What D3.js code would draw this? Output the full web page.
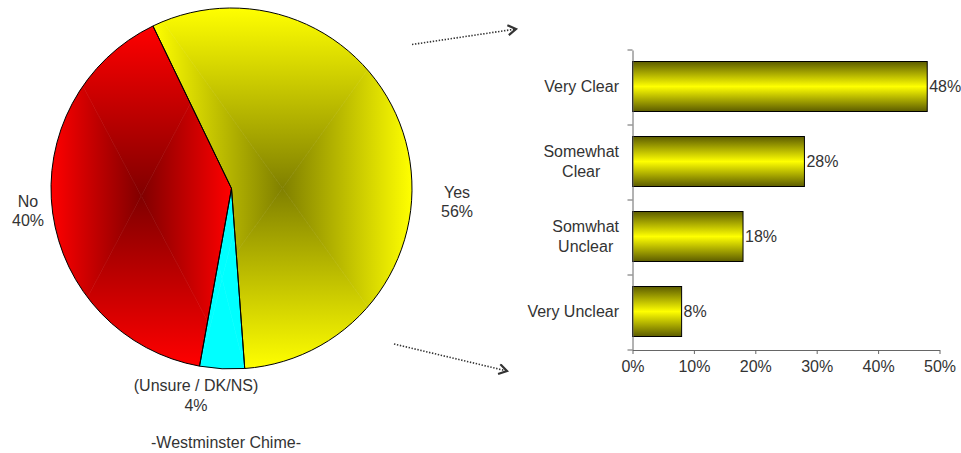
<!DOCTYPE html>
<html>
<head>
<meta charset="utf-8">
<script src="https://cdnjs.cloudflare.com/ajax/libs/d3/7.8.5/d3.min.js"></script>
<style>
  html, body { margin: 0; padding: 0; background: #fff; }
  svg { display: block; font-family: Arial, "Liberation Sans", sans-serif; }
</style>
</head>
<body>
<svg id="chart" width="961" height="453"></svg>
<script>
// Pie: overall answer
const pieLabels = ["Yes", "(Unsure / DK/NS)", "No"];
const pieValues = [56, 4, 40];
const pieInner = ["#808000", "#00ffff", "#800000"];
const pieOuter = ["#ffff00", "#00ffff", "#ff0000"];

// Bars: breakdown of the "Yes" answers
const barCategories = [["Very Clear"], ["Somewhat", "Clear"], ["Somwhat", "Unclear"], ["Very Unclear"]];
const barValues = [0.48, 0.28, 0.18, 0.08];
const xTicks = [0, 0.1, 0.2, 0.3, 0.4, 0.5];

const title = "-Westminster Chime-";

const W = 961, H = 453;
const svg = d3.select("#chart");
const defs = svg.append("defs");
const FS = 16;
const textColor = "#333";

// ---------- Pie ----------
const cx = 231.5, cy = 188.5, R = 180.5;
const startDeg = -25.8;
const pie = d3.pie().sort(null)
  .startAngle(startDeg * Math.PI / 180)
  .endAngle(startDeg * Math.PI / 180 + 2 * Math.PI);
const arc = d3.arc().innerRadius(0).outerRadius(R);
const arcs = pie(pieValues);

const pieG = svg.append("g").attr("transform", `translate(${cx},${cy})`);

// Rectangular "from centre" shading: four triangles over the slice's bounding box,
// each with a linear gradient running from the box centre out to its edge.
function rectShade(g, bb, inner, outer, key) {
  const x0 = bb.x, y0 = bb.y, x1 = bb.x + bb.width, y1 = bb.y + bb.height;
  const mx = (x0 + x1) / 2, my = (y0 + y1) / 2;
  const parts = [
    { pts: [[x0, y0], [x1, y0], [mx, my]], a: [mx, my], b: [mx, y0] },
    { pts: [[x1, y0], [x1, y1], [mx, my]], a: [mx, my], b: [x1, my] },
    { pts: [[x1, y1], [x0, y1], [mx, my]], a: [mx, my], b: [mx, y1] },
    { pts: [[x0, y1], [x0, y0], [mx, my]], a: [mx, my], b: [x0, my] }
  ];
  parts.forEach((p, i) => {
    const id = `shade-${key}-${i}`;
    const lg = defs.append("linearGradient").attr("id", id)
      .attr("gradientUnits", "userSpaceOnUse")
      .attr("x1", p.a[0]).attr("y1", p.a[1]).attr("x2", p.b[0]).attr("y2", p.b[1]);
    lg.append("stop").attr("offset", "0%").attr("stop-color", inner);
    lg.append("stop").attr("offset", "100%").attr("stop-color", outer);
    g.append("polygon")
      .attr("points", p.pts.map(q => q.join(",")).join(" "))
      .attr("fill", `url(#${id})`)
      .attr("stroke", `url(#${id})`)
      .attr("stroke-width", 0.6);
  });
}

arcs.forEach((a, i) => {
  const d = arc(a);
  const clipId = `slice-clip-${i}`;
  defs.append("clipPath").attr("id", clipId)
    .attr("transform", `translate(${cx},${cy})`)
    .append("path").attr("d", d);
  const probe = pieG.append("path").attr("d", d).attr("fill", "none");
  const bb = probe.node().getBBox();
  probe.remove();
  const g = svg.append("g").attr("clip-path", `url(#${clipId})`);
  const shifted = { x: bb.x + cx, y: bb.y + cy, width: bb.width, height: bb.height };
  rectShade(g, shifted, pieInner[i], pieOuter[i], i);
});

const outlineG = svg.append("g").attr("transform", `translate(${cx},${cy})`);
outlineG.selectAll("path").data(arcs).join("path")
  .attr("d", arc)
  .attr("fill", "none")
  .attr("stroke", "#000")
  .attr("stroke-width", 1)
  .attr("stroke-linejoin", "round");

// Pie labels
const pieLabelPos = [[457, 192], [196, 385.5], [28, 201]];
pieLabels.forEach((lab, i) => {
  const t = svg.append("text")
    .attr("x", pieLabelPos[i][0]).attr("y", pieLabelPos[i][1])
    .attr("text-anchor", "middle").attr("font-size", FS).attr("fill", textColor);
  t.append("tspan").attr("x", pieLabelPos[i][0]).attr("dy", "0.35em").text(lab);
  t.append("tspan").attr("x", pieLabelPos[i][0]).attr("dy", 19.5).text(pieValues[i] + "%");
});

svg.append("text")
  .attr("x", 226).attr("y", 442).attr("dy", "0.35em")
  .attr("text-anchor", "middle").attr("font-size", FS).attr("fill", textColor)
  .text(title);

// ---------- Dotted arrows ----------
const marker = defs.append("marker").attr("id", "chev")
  .attr("markerUnits", "userSpaceOnUse")
  .attr("viewBox", "0 0 12 12").attr("refX", 10).attr("refY", 6)
  .attr("markerWidth", 12).attr("markerHeight", 12).attr("orient", "auto");
marker.append("path").attr("d", "M2,1 L10,6 L2,11")
  .attr("fill", "none").attr("stroke", "#333").attr("stroke-width", 2.2);

const arrows = [[[412, 44.5], [516, 29]], [[394, 344], [507, 371]]];
svg.selectAll("line.arrow").data(arrows).join("line")
  .attr("class", "arrow")
  .attr("x1", d => d[0][0]).attr("y1", d => d[0][1])
  .attr("x2", d => d[1][0]).attr("y2", d => d[1][1])
  .attr("stroke", "#333").attr("stroke-width", 1.6)
  .attr("stroke-dasharray", "1.4,1.6")
  .attr("marker-end", "url(#chev)");

// ---------- Bar chart ----------
const x = d3.scaleLinear().domain([0, 0.5]).range([632.5, 939.5]);
const y = d3.scaleBand().domain(d3.range(barValues.length)).range([50, 350])
  .paddingInner(1 / 3).paddingOuter(1 / 6);

const bg = defs.append("linearGradient").attr("id", "barShade")
  .attr("x1", 0).attr("y1", 0).attr("x2", 0).attr("y2", 1);
[[0, "#5c5c00"], [0.5, "#ffff00"], [1, "#5c5c00"]].forEach(s =>
  bg.append("stop").attr("offset", s[0]).attr("stop-color", s[1]));

svg.append("g").selectAll("rect").data(barValues).join("rect")
  .attr("x", x(0))
  .attr("y", (d, i) => y(i) - 1)
  .attr("width", d => x(d) - x(0))
  .attr("height", y.bandwidth())
  .attr("fill", "url(#barShade)")
  .attr("stroke", "#000").attr("stroke-width", 1);

// value labels
svg.append("g").selectAll("text").data(barValues).join("text")
  .attr("x", d => x(d) + 2)
  .attr("y", (d, i) => y(i) - 1 + y.bandwidth() / 2)
  .attr("dy", "0.35em")
  .attr("font-size", FS).attr("fill", textColor)
  .text(d => d3.format(".0%")(d));

// x axis
const xAxis = svg.append("g").attr("transform", "translate(0,350)")
  .call(d3.axisBottom(x).tickValues(xTicks).tickFormat(d3.format(".0%"))
    .tickSizeInner(4).tickSizeOuter(0).tickPadding(7));
xAxis.select(".domain").attr("stroke", "#666");
xAxis.selectAll(".tick line").attr("stroke", "#666");
xAxis.selectAll(".tick text").attr("font-size", FS).attr("fill", textColor)
  .attr("font-family", "Arial, 'Liberation Sans', sans-serif");

// y axis line and separators between categories
const yAxis = svg.append("g").attr("transform", `translate(${x(0)},0)`)
  .call(d3.axisLeft(y).tickValues([]).tickSizeOuter(0));
yAxis.select(".domain").attr("stroke", "#666");
const bounds = d3.range(barValues.length + 1).map(i => y.range()[0] + i * y.step());
svg.append("g").selectAll("line").data(bounds).join("line")
  .attr("x1", x(0) - 5).attr("x2", x(0))
  .attr("y1", d => d).attr("y2", d => d)
  .attr("stroke", "#666");

// category labels: block right-aligned, lines centred within the block
barCategories.forEach((lines, i) => {
  const t = svg.append("text").attr("font-size", FS).attr("fill", textColor)
    .attr("text-anchor", "middle");
  const yc = y(i) - 1 + y.bandwidth() / 2;
  const spans = lines.map((ln, j) => t.append("tspan")
    .attr("y", yc + (j - (lines.length - 1) / 2) * 20)
    .attr("dy", "0.35em").text(ln));
  const wMax = d3.max(spans, s => s.node().getComputedTextLength());
  const mid = 619 - wMax / 2;
  spans.forEach(s => s.attr("x", mid));
});
</script>
</body>
</html>
